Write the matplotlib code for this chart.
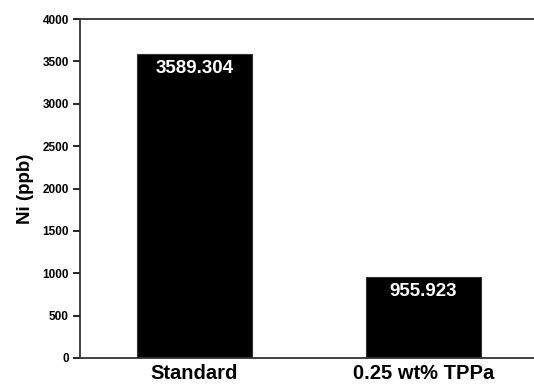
import matplotlib.pyplot as plt

plt.rcParams['font.family'] = ['Liberation Sans', 'DejaVu Sans']
plt.rcParams['font.weight'] = 'bold'

categories = ['Standard', '0.25 wt% TPPa']
values = [3589.304, 955.923]
yticks = [0, 500, 1000, 1500, 2000, 2500, 3000, 3500, 4000]

fig = plt.figure(figsize=(5.34, 3.85), dpi=100)
ax = fig.add_axes([80 / 534, 27 / 385, 458 / 534, 339 / 385])

x = range(len(categories))
bars = ax.bar(x, values, width=0.5, color='black', edgecolor='#333333', linewidth=0.8)
for xi, v in zip(x, values):
    ax.text(xi, v - 175, f'{v:.3f}', ha='center', va='center',
            color='white', fontsize=13.5, fontweight='bold')

ax.set_xlim(-0.5, 1.5)
ax.set_ylim(0, 4000)
ax.set_yticks(yticks)
ax.set_xticks(list(x))
ax.set_xticklabels(categories, fontsize=14.5, fontweight='bold')
ax.tick_params(axis='x', length=0, pad=4)
ax.tick_params(axis='y', direction='out', length=5, width=1.2, labelsize=8.5, pad=3)
ax.set_ylabel('Ni (ppb)', fontsize=13.5, fontweight='bold', labelpad=6)
for s in ax.spines.values():
    s.set_linewidth(1.3)
    s.set_color('#333333')

fig.savefig('out.png', dpi=100)
